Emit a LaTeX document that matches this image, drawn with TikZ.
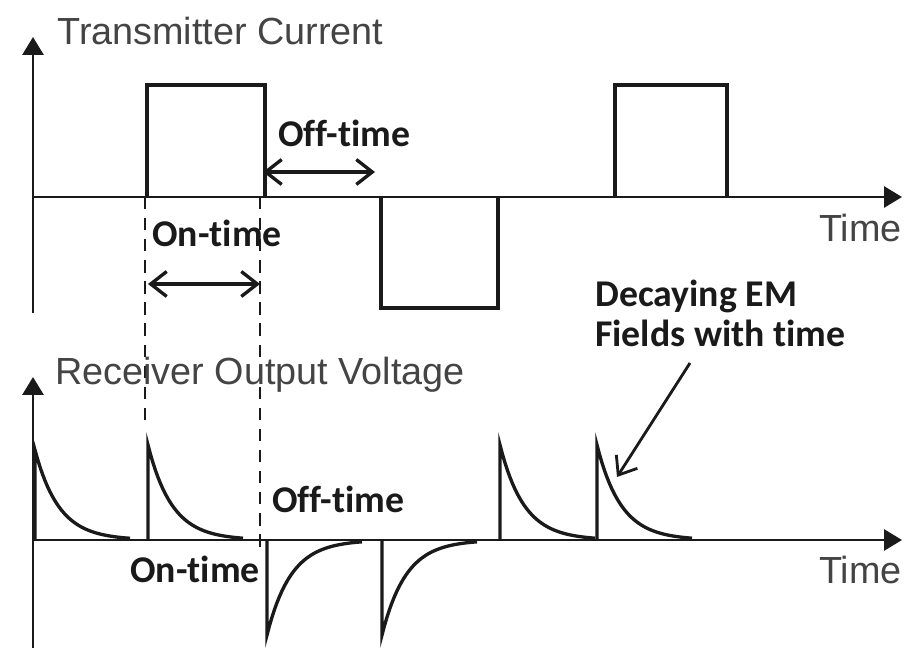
\documentclass[tikz,border=0pt]{standalone}
\usepackage{fontspec}
\usepackage{tikz}
\usetikzlibrary{arrows.meta, positioning, calc}
\newfontfamily\axisfont{Liberation Sans}
\newfontfamily\notefont{Carlito}[Ligatures=NoCommon]
\definecolor{colInk}     {HTML}{1A1A1A}
\definecolor{colAxisText}{HTML}{444444}
\tikzset{
  axisline/.style={
    -{Triangle[length=3.6mm,width=4.2mm]},
    line width=1.7pt, draw=colInk
  },
  trace/.style={line width=1.9pt, draw=colInk, line join=miter},
  guide/.style={line width=1pt, draw=colInk, dash pattern=on 7pt off 5pt},
  spanarr/.style={
    {Straight Barb[length=3.2mm,width=5mm]}-{Straight Barb[length=3.2mm,width=5mm]},
    line width=1.9pt, draw=colInk
  },
  notearr/.style={
    -{Straight Barb[length=3.2mm,width=5mm]},
    line width=1.6pt, draw=colInk
  },
  % text styles
  axislabel/.style={inner sep=0pt, text=colAxisText,
    font=\axisfont\fontsize{21.5}{24}\selectfont},
  note/.style={inner sep=0pt, text=colInk,
    font=\notefont\bfseries\fontsize{21.5}{25}\selectfont}
}
\begin{document}
\begin{tikzpicture}[x=0.02cm, y=-0.02cm]
        \useasboundingbox (0,0) rectangle (913,648);
        % transmitter current
        \draw[axisline] (33,313) -- (33,37);
        \draw[axisline] (33,197) -- (902,197);
        \node[axislabel, anchor=base west] (txtitle) at (57,45) {Transmitter Current};
        \node[axislabel, anchor=base east] (txtime)  at (902,242) {Time};
        \draw[trace] (147,197) |- (265,85) -- (265,197);
        \draw[trace] (381,197) |- (498,308) -- (498,197);
        \draw[trace] (615,197) |- (727,85) -- (727,197);
        \draw[guide] (145,197) -- (145,425);
        \draw[guide] (260,197) -- (260,555);
        \node[note, anchor=base west] (txoff) at (278,147) {Off-time};
        \node[note, anchor=base west] (txon)  at (152,247) {On-time};
        \coordinate (offa) at (263,172); \coordinate (offb) at (375,172);
        \coordinate (ona)  at (148,284); \coordinate (onb)  at (260,284);
        \draw[spanarr] (offa) -- (offb);
        \draw[spanarr] (ona) -- (onb);
        % receiver output voltage
        \draw[axisline] (33,648) -- (33,377);
        \draw[axisline] (33,540) -- (902,540);
        \node[axislabel, anchor=base west] (rxtitle) at (55,385) {Receiver Output Voltage};
        \node[axislabel, anchor=base east] (rxtime)  at (902,583) {Time};
        \foreach \xs/\ytop in {35/450, 148/445, 500/445, 597/445}
          \draw[trace] (\xs,540) -- (\xs,\ytop) -- plot[domain=0:95, samples=40]
            ({\xs+\x},{540-(540-\ytop)*exp(-\x/24)});
        \foreach \xs in {267, 382}
          \draw[trace] (\xs,540) -- (\xs,635) -- plot[domain=0:95, samples=40]
            ({\xs+\x},{540+95*exp(-\x/24)});
        \node[note, anchor=base west] (rxoff) at (272,512) {Off-time};
        \node[note, anchor=base west] (rxon)  at (130,582) {On-time};
        \node[note, anchor=base west] (emtop) at (595,307) {Decaying EM};
        \node[note, anchor=base west] (embot) at ($(emtop.base west)+(0,40)$) {Fields with time};
        \coordinate (emtail) at (690,363); \coordinate (emtip) at (617,477);
        \draw[notearr] (emtail) -- (emtip);
      \end{tikzpicture}
\end{document}
